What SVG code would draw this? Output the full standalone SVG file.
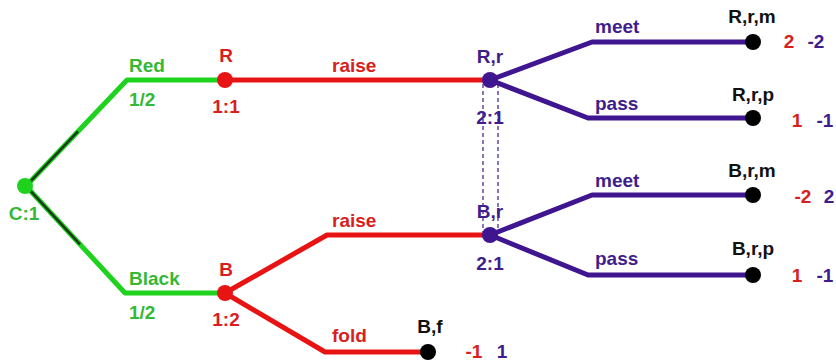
<svg xmlns="http://www.w3.org/2000/svg" width="836" height="362" viewBox="0 0 836 362">
<style>
text{font-family:"Liberation Sans",Arial,sans-serif;font-weight:bold;font-size:19px;text-anchor:middle}
.g{fill:#35b835}.r{fill:#d91e1e}.p{fill:#3f1d8c}.k{fill:#111}
.lg{stroke:#1ed21e;stroke-width:5;fill:none;stroke-linejoin:round}
.lr{stroke:#e81414;stroke-width:5;fill:none;stroke-linejoin:round}
.lp{stroke:#3f1590;stroke-width:5;fill:none;stroke-linejoin:round}
.dash{stroke:#3f1590;stroke-width:1.2;stroke-dasharray:4 3;fill:none}
.st{text-anchor:start}
</style>
<rect width="836" height="362" fill="#fff"/>
<g id="connectors">
<polyline class="lg" points="26,186 127,80 225,80"/>
<polyline class="lg" points="26,186 125,293 225,293"/>
<line x1="30" y1="181.8" x2="78" y2="131.4" stroke="#1a3a1a" stroke-width="2.5"/>
<line x1="30" y1="190.3" x2="80" y2="244.4" stroke="#1a3a1a" stroke-width="2.5"/>
<line class="lr" x1="225" y1="80" x2="490" y2="80"/>
<polyline class="lr" points="225,293 327,235 490,235"/>
<polyline class="lr" points="225,293 325,352 428,352"/>
<polyline class="lp" points="490,80 592,42 753,42"/>
<polyline class="lp" points="490,80 588,118 753,118"/>
<polyline class="lp" points="490,235 592,195 753,195"/>
<polyline class="lp" points="490,235 588,275 753,275"/>
<line class="dash" x1="483" y1="84" x2="483" y2="232"/>
<line class="dash" x1="498" y1="84" x2="498" y2="232"/>
<text class="g st" x="129" y="72">Red</text>
<text class="g st" x="129" y="106">1/2</text>
<text class="g st" x="129" y="285">Black</text>
<text class="g st" x="129" y="319">1/2</text>
<text class="r st" x="332" y="72">raise</text>
<text class="r st" x="332" y="227">raise</text>
<text class="r st" x="332" y="342">fold</text>
<text class="p st" x="595" y="33">meet</text>
<text class="p st" x="595" y="110">pass</text>
<text class="p st" x="595" y="187">meet</text>
<text class="p st" x="595" y="265">pass</text>
</g>
<g id="C">
<circle cx="25" cy="186" r="8" fill="#1ed21e"/>
<text class="g" x="24" y="220">C:1</text>
</g>
<g id="R">
<circle cx="225" cy="80" r="8" fill="#e81414"/>
<text class="r" x="226" y="62">R</text>
<text class="r" x="226" y="113">1:1</text>
</g>
<g id="B">
<circle cx="225" cy="293" r="8" fill="#e81414"/>
<text class="r" x="226" y="276">B</text>
<text class="r" x="226" y="326">1:2</text>
</g>
<g id="Rr">
<circle cx="490" cy="80" r="8" fill="#3f1590"/>
<text class="p" x="490" y="63">R,r</text>
<text class="p" x="490" y="124">2:1</text>
</g>
<g id="Br">
<circle cx="490" cy="235" r="8" fill="#3f1590"/>
<text class="p" x="490" y="218">B,r</text>
<text class="p" x="490" y="270">2:1</text>
</g>
<g id="Bf">
<circle cx="428" cy="352" r="8" fill="#000"/>
<text class="k" x="430" y="333">B,f</text>
<text class="r" x="474" y="358">-1</text>
<text class="p" x="502" y="358">1</text>
</g>
<g id="Rrm">
<circle cx="753" cy="42" r="8" fill="#000"/>
<text class="k" x="752" y="23">R,r,m</text>
<text class="r" x="789" y="48">2</text>
<text class="p" x="816" y="48">-2</text>
</g>
<g id="Rrp">
<circle cx="753" cy="118" r="8" fill="#000"/>
<text class="k" x="753" y="101">R,r,p</text>
<text class="r" x="797" y="127">1</text>
<text class="p" x="825" y="127">-1</text>
</g>
<g id="Brm">
<circle cx="753" cy="195" r="8" fill="#000"/>
<text class="k" x="752" y="177">B,r,m</text>
<text class="r" x="803" y="203">-2</text>
<text class="p" x="829" y="203">2</text>
</g>
<g id="Brp">
<circle cx="753" cy="275" r="8" fill="#000"/>
<text class="k" x="753" y="255">B,r,p</text>
<text class="r" x="797" y="282">1</text>
<text class="p" x="825" y="282">-1</text>
</g>
</svg>
